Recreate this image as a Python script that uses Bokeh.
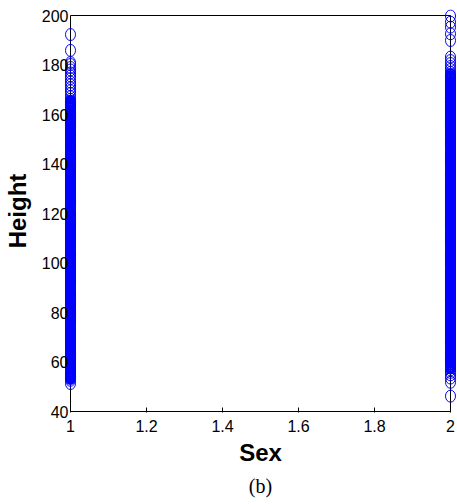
from bokeh.plotting import figure
from bokeh.models import Range1d, FixedTicker, CustomJSTickFormatter, Title, ColumnDataSource
from bokeh.embed import file_html
from bokeh.resources import INLINE

# ---- data ----
sex1_height = [51.3, 52.6, 53.4, 54.1, 54.9, 55.7, 56.4, 57.2, 58.0, 58.7, 59.5,
               60.0, 60.8, 61.5, 62.3, 63.0, 63.8, 64.6, 65.3, 66.1, 66.9, 67.6, 68.4, 69.2,
               70.0, 70.8, 71.5, 72.3, 73.0, 73.8, 74.6, 75.3, 76.1, 76.9, 77.6, 78.4, 79.2,
               80.0, 80.8, 81.5, 82.3, 83.0, 83.8, 84.6, 85.3, 86.1, 86.9, 87.6, 88.4, 89.2,
               90.0, 90.8, 91.5, 92.3, 93.0, 93.8, 94.6, 95.3, 96.1, 96.9, 97.6, 98.4, 99.2,
               100.0, 100.8, 101.5, 102.3, 103.0, 103.8, 104.6, 105.3, 106.1, 106.9, 107.6, 108.4, 109.2,
               110.0, 110.8, 111.5, 112.3, 113.0, 113.8, 114.6, 115.3, 116.1, 116.9, 117.6, 118.4, 119.2,
               120.0, 120.8, 121.5, 122.3, 123.0, 123.8, 124.6, 125.3, 126.1, 126.9, 127.6, 128.4, 129.2,
               130.0, 130.8, 131.5, 132.3, 133.0, 133.8, 134.6, 135.3, 136.1, 136.9, 137.6, 138.4, 139.2,
               140.0, 140.8, 141.5, 142.3, 143.0, 143.8, 144.6, 145.3, 146.1, 146.9, 147.6, 148.4, 149.2,
               150.0, 150.8, 151.5, 152.3, 153.0, 153.8, 154.6, 155.3, 156.1, 156.9, 157.6, 158.4, 159.2,
               160.0, 160.8, 161.5, 162.3, 163.0, 163.8, 164.6, 165.3, 166.1,
               167.2, 168.5, 169.6, 170.8, 172.0, 173.1, 174.5, 175.6, 176.8, 178.0, 179.0,
               180.2, 181.0, 185.9, 192.3]
sex2_height = [46.2, 51.8, 53.5, 54.8, 55.8, 56.8, 57.6, 58.4, 59.2,
               60.0, 60.8, 61.5, 62.3, 63.0, 63.8, 64.6, 65.3, 66.1, 66.9, 67.6, 68.4, 69.2,
               70.0, 70.8, 71.5, 72.3, 73.0, 73.8, 74.6, 75.3, 76.1, 76.9, 77.6, 78.4, 79.2,
               80.0, 80.8, 81.5, 82.3, 83.0, 83.8, 84.6, 85.3, 86.1, 86.9, 87.6, 88.4, 89.2,
               90.0, 90.8, 91.5, 92.3, 93.0, 93.8, 94.6, 95.3, 96.1, 96.9, 97.6, 98.4, 99.2,
               100.0, 100.8, 101.5, 102.3, 103.0, 103.8, 104.6, 105.3, 106.1, 106.9, 107.6, 108.4, 109.2,
               110.0, 110.8, 111.5, 112.3, 113.0, 113.8, 114.6, 115.3, 116.1, 116.9, 117.6, 118.4, 119.2,
               120.0, 120.8, 121.5, 122.3, 123.0, 123.8, 124.6, 125.3, 126.1, 126.9, 127.6, 128.4, 129.2,
               130.0, 130.8, 131.5, 132.3, 133.0, 133.8, 134.6, 135.3, 136.1, 136.9, 137.6, 138.4, 139.2,
               140.0, 140.8, 141.5, 142.3, 143.0, 143.8, 144.6, 145.3, 146.1, 146.9, 147.6, 148.4, 149.2,
               150.0, 150.8, 151.5, 152.3, 153.0, 153.8, 154.6, 155.3, 156.1, 156.9, 157.6, 158.4, 159.2,
               160.0, 160.8, 161.5, 162.3, 163.0, 163.8, 164.6, 165.3, 166.1, 166.9, 167.6, 168.4, 169.2,
               170.0, 170.8, 171.5, 172.3, 173.0, 173.8, 174.6, 175.3, 176.1, 177.0, 178.2,
               179.4, 180.6, 181.8, 183.2, 189.9, 192.6, 195.3, 197.3, 199.8]
sex_values = [1, 2]
x_ticks = [1, 1.2, 1.4, 1.6, 1.8, 2]
y_ticks = [40, 60, 80, 100, 120, 140, 160, 180, 200]
y_lo, y_hi = 40, 200

# ---- layout (pixels) ----
box_w, box_h = 380, 396          # inner box size
pad_x, pad_top, pad_bot = 6, 6, 1
dx = (sex_values[1] - sex_values[0]) * pad_x / box_w
py = box_h / (y_hi - y_lo)


def styles(vals):
    """Thicker outlines where markers pile up densely (mimics the solid band)."""
    lw, w, h = [], [], []
    for i, v in enumerate(vals):
        gaps = []
        if i > 0:
            gaps.append(v - vals[i - 1])
        if i < len(vals) - 1:
            gaps.append(vals[i + 1] - v)
        dense = max(gaps) < 1.0
        lw.append(2.2 if dense else 1.0)
        w.append(9.0 if dense else 10.0)
        h.append(11.0 if dense else 12.0)
    return lw, w, h


lw1, w1, h1 = styles(sex1_height)
lw2, w2, h2 = styles(sex2_height)
xs = [sex_values[0]] * len(sex1_height) + [sex_values[1]] * len(sex2_height)
ys = sex1_height + sex2_height
src = ColumnDataSource(dict(x=xs, y=ys, lw=lw1 + lw2, w=w1 + w2, h=h1 + h2))

p = figure(frame_width=box_w + 2 * pad_x, frame_height=box_h + pad_top + pad_bot,
           output_backend="svg", toolbar_location=None,
           x_range=Range1d(sex_values[0] - dx, sex_values[1] + dx),
           y_range=Range1d(y_lo - pad_bot / py, y_hi + pad_top / py),
           min_border_left=57, min_border_right=0, min_border_top=9, min_border_bottom=0)
p.grid.visible = False
p.outline_line_color = None
p.background_fill_color = "white"
p.border_fill_color = "white"

# axes box
p.quad(left=[sex_values[0]], right=[sex_values[1]], bottom=[y_lo], top=[y_hi],
       fill_color=None, line_color="black", line_width=1)

p.ellipse(x="x", y="y", width="w", height="h", width_units="screen", height_units="screen",
          fill_color=None, line_color="#0000ff", line_width="lw", source=src)

for ax in (p.xaxis[0], p.yaxis[0]):
    ax.major_tick_out = 0
    ax.minor_tick_line_color = None
    ax.axis_line_color = None
    ax.major_label_text_font = "Liberation Sans"
    ax.major_label_text_font_size = "16px"
    ax.major_label_text_color = "black"
    ax.axis_label_text_font = "Liberation Sans"
    ax.axis_label_text_font_size = "24px"
    ax.axis_label_text_font_style = "bold"
    ax.axis_label_text_color = "black"

xa = p.xaxis[0]
xa.ticker = FixedTicker(ticks=x_ticks)
xa.formatter = CustomJSTickFormatter(code="return String(Math.round(tick*10)/10);")
xa.major_tick_in = 5
xa.major_tick_line_color = "black"
xa.axis_label = "Sex"
xa.major_label_standoff = 7
xa.axis_label_standoff = 4

ya = p.yaxis[0]
ya.ticker = FixedTicker(ticks=y_ticks)
ya.major_tick_in = 0
ya.major_tick_line_color = None
ya.axis_label = "Height"
ya.major_label_standoff = -4
ya.axis_label_standoff = 8

p.add_layout(Title(text="(b)", align="center", text_font="Liberation Serif",
                   text_font_size="20px", text_font_style="normal", text_color="black",
                   standoff=9),
             "below")

open("out.html", "w").write(file_html(p, INLINE))
